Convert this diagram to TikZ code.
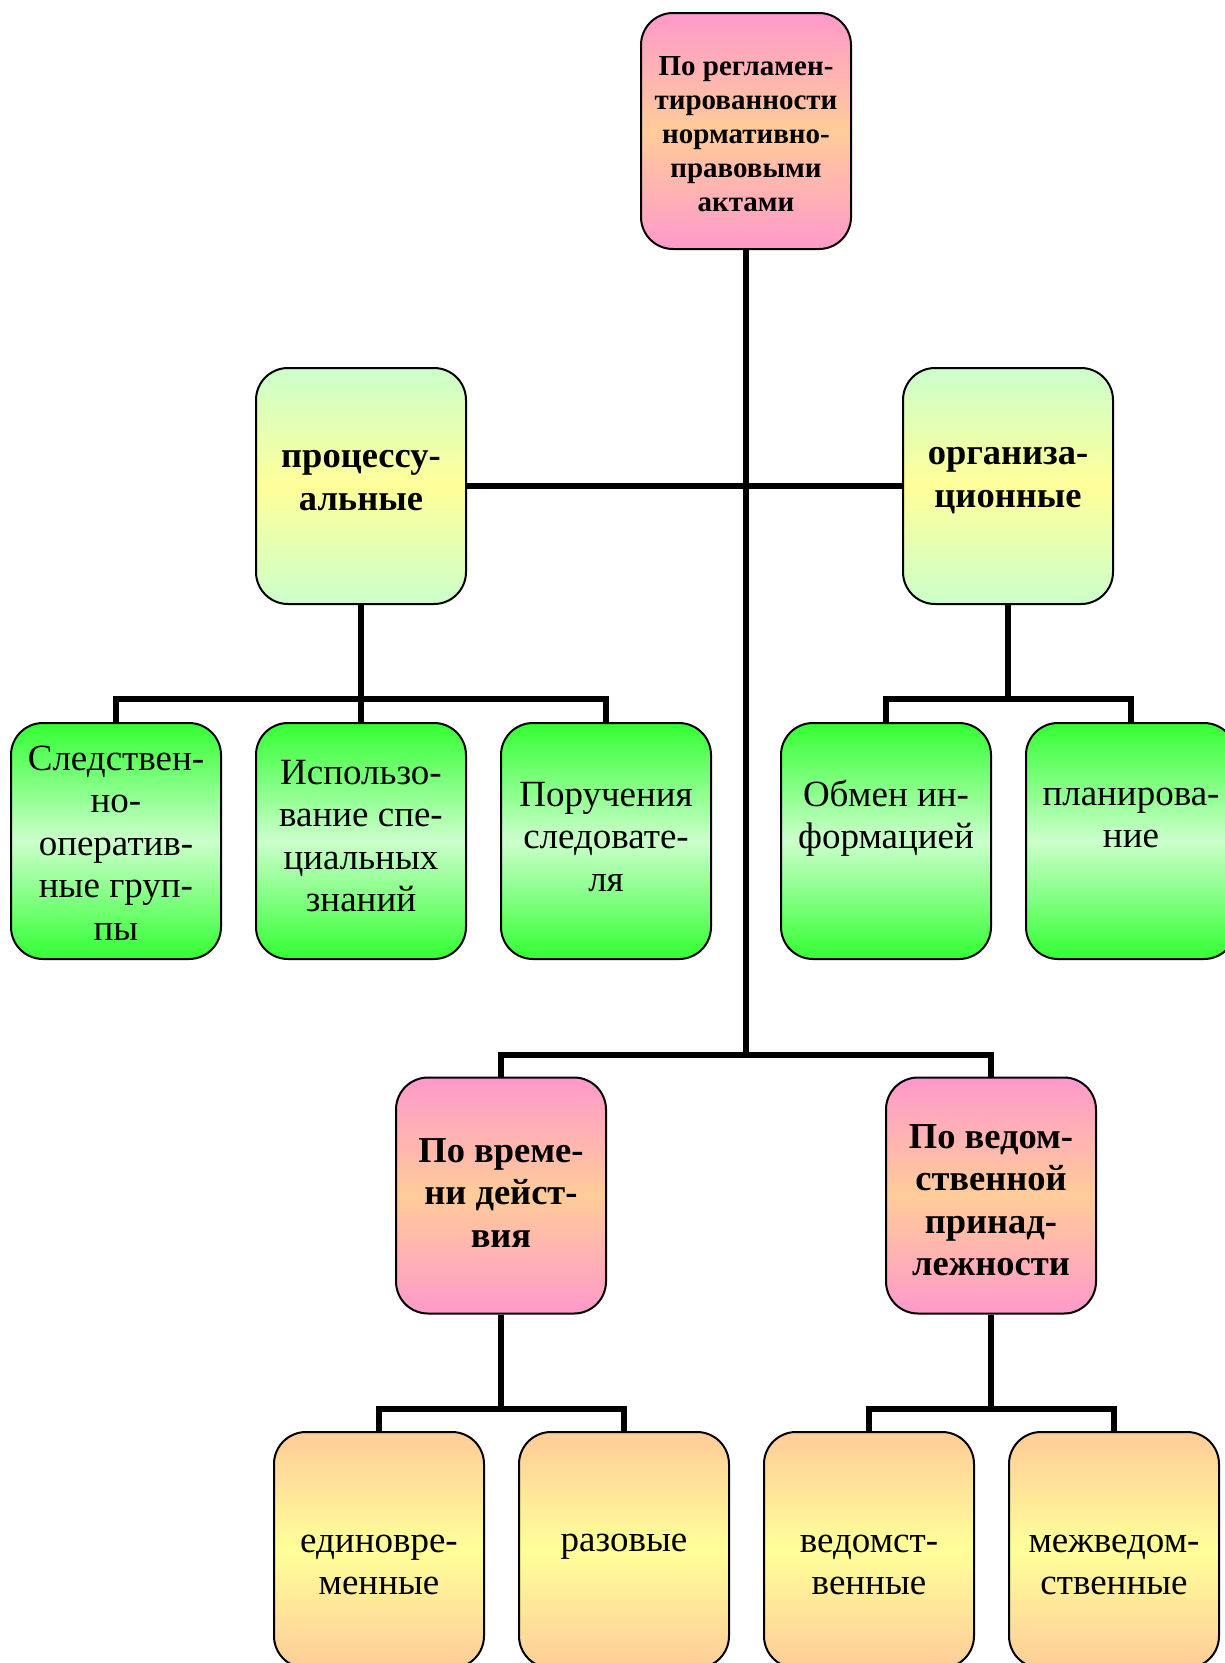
\documentclass[tikz,border=0pt]{standalone}
\usepackage{fontspec}
\setmainfont{Liberation Serif}
\definecolor{pinkA}{HTML}{FF99CC}
\definecolor{peachA}{HTML}{FFCC99}
\definecolor{lgreen}{HTML}{CCFFCC}
\definecolor{lyellow}{HTML}{FFFF99}
\definecolor{bgreen}{HTML}{33FF33}
\begin{document}
\begin{tikzpicture}[x=1pt,y=-1pt,
  box/.style={draw=black, line width=2pt, rounded corners=32pt, minimum width=210pt, minimum height=236pt, inner sep=0pt},
  pinkbox/.style={box, top color=pinkA, bottom color=pinkA, middle color=peachA},
  lgbox/.style={box, top color=lgreen, bottom color=lgreen, middle color=lyellow},
  gbox/.style={box, top color=bgreen, bottom color=bgreen, middle color=lgreen},
  obox/.style={box, top color=peachA, bottom color=peachA, middle color=lyellow},
  conn/.style={draw=black, line width=6pt, line join=miter},
  txt/.style={align=center, inner sep=0pt, font=\fontsize{37}{42.5}\selectfont},
  btxt/.style={align=center, inner sep=0pt, font=\fontsize{36.5}{42.5}\selectfont\bfseries},
  ttxt/.style={align=center, inner sep=0pt, font=\fontsize{29}{34}\selectfont\bfseries}
]
\useasboundingbox (0,0) rectangle (1225,1663);
% junction points
\coordinate (j1) at (746,1055);
\coordinate (pj) at (361,699);
\coordinate (oj) at (1008,699);
\coordinate (vj) at (501,1409);
\coordinate (dj) at (991,1409);
% boxes
\node[pinkbox] (top) at (746,131) {};
\node[lgbox] (proc) at (361,486) {};
\node[lgbox] (org) at (1008,486) {};
\node[gbox] (g1) at (116,841) {};
\node[gbox] (g2) at (361,841) {};
\node[gbox] (g3) at (606,841) {};
\node[gbox] (g4) at (886,841) {};
\node[gbox] (g5) at (1131,841) {};
\node[pinkbox] (p1) at (501,1195.5) {};
\node[pinkbox] (p2) at (991,1195.5) {};
\node[obox] (o1) at (379,1550) {};
\node[obox] (o2) at (624,1550) {};
\node[obox] (o3) at (869,1550) {};
\node[obox] (o4) at (1114,1550) {};
% lines
\draw[conn] (top.south) -- (j1);
\draw[conn] (proc.east) -- (org.west);
\draw[conn] (proc.south) -- (pj);
\draw[conn] (g1.north) |- (pj) -| (g3.north);
\draw[conn] (pj) -- (g2.north);
\draw[conn] (org.south) -- (oj);
\draw[conn] (g4.north) |- (oj) -| (g5.north);
\draw[conn] (p1.north) |- (j1) -| (p2.north);
\draw[conn] (p1.south) -- (vj);
\draw[conn] (o1.north) |- (vj) -| (o2.north);
\draw[conn] (p2.south) -- (dj);
\draw[conn] (o3.north) |- (dj) -| (o4.north);
% texts
\node[ttxt] (ttop) at (746,134) {По регламен-\\тированности\\нормативно-\\правовыми\\актами};
\node[btxt] (tproc) at (361,480.5) {процессу-\\альные};
\node[btxt] (torg) at (1008,480.5) {организа-\\ционные};
\node[txt] (tg1) at (116,843) {Следствен-\\но-\\оператив-\\ные груп-\\пы};
\node[txt] (tg2) at (361,836) {Использо-\\вание спе-\\циальных\\знаний};
\node[txt] (tg3) at (606,837) {Поручения\\следовате-\\ля};
\node[txt] (tg4) at (886,818) {Обмен ин-\\формацией};
\node[txt] (tg5) at (1131,818) {планирова-\\ние};
\node[btxt] (tp1) at (501,1193) {По време-\\ни дейст-\\вия};
\node[btxt] (tp2) at (991,1200) {По ведом-\\ственной\\принад-\\лежности};
\node[txt] (to1) at (379,1565) {единовре-\\менные};
\node[txt] (to2) at (624,1547) {разовые};
\node[txt] (to3) at (869,1565) {ведомст-\\венные};
\node[txt] (to4) at (1114,1565) {межведом-\\ственные};
\end{tikzpicture}
\end{document}
